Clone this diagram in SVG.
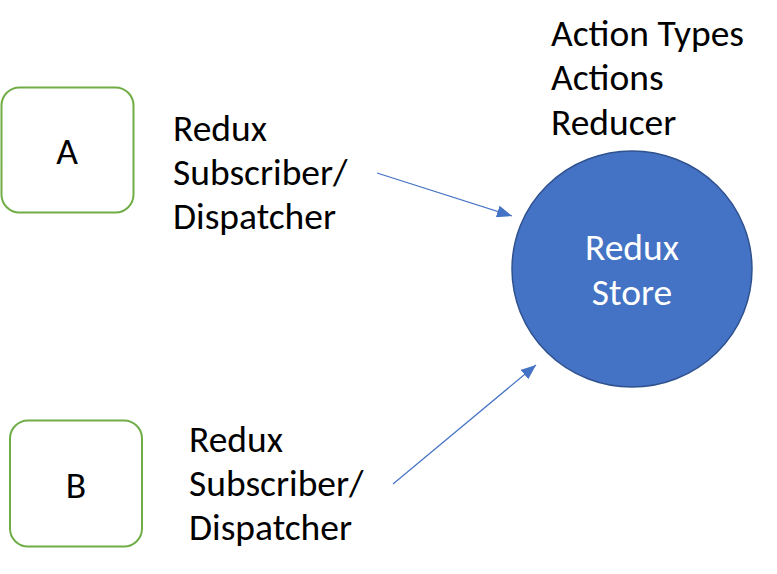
<svg xmlns="http://www.w3.org/2000/svg" width="777" height="574" viewBox="0 0 777 574">
<defs>
<style>
.t{font-family:"Carlito","Open Sans","Liberation Sans",sans-serif;font-size:37.5px;fill:#000}
.box{fill:#fff;stroke:#70AD47;stroke-width:2}
.con{stroke:#4472C4;stroke-width:1.2;fill:none}
</style>
<marker id="ah" markerWidth="16" markerHeight="12" refX="15" refY="6" orient="auto" markerUnits="userSpaceOnUse">
<path d="M0,0 L15,6 L0,12 Z" fill="#4472C4"/>
</marker>
</defs>
<rect width="777" height="574" fill="#fff"/>
<g id="nodeA">
<rect class="box" x="1.5" y="87.5" width="132" height="125" rx="18"/>
<text class="t" x="67" y="164" text-anchor="middle">A</text>
</g>
<g id="nodeB">
<rect class="box" x="10" y="420.5" width="132" height="126" rx="18"/>
<text class="t" x="76" y="498" text-anchor="middle">B</text>
</g>
<g id="store">
<ellipse cx="632" cy="269" rx="120" ry="118" fill="#4472C4" stroke="#2F528F" stroke-width="1.5"/>
<text class="t" x="632" y="260" text-anchor="middle" style="fill:#fff">Redux</text>
<text class="t" x="632" y="305" text-anchor="middle" style="fill:#fff">Store</text>
</g>
<g id="labelA">
<text class="t" x="173" y="141">Redux</text>
<text class="t" x="173" y="185">Subscriber/</text>
<text class="t" x="173" y="229">Dispatcher</text>
</g>
<g id="labelB">
<text class="t" x="189" y="452">Redux</text>
<text class="t" x="189" y="496">Subscriber/</text>
<text class="t" x="189" y="540">Dispatcher</text>
</g>
<g id="storeNotes">
<text class="t" x="551" y="46">Action Types</text>
<text class="t" x="551" y="90">Actions</text>
<text class="t" x="551" y="135">Reducer</text>
</g>
<g id="connectors">
<line class="con" x1="377" y1="173" x2="512" y2="216" marker-end="url(#ah)"/>
<line class="con" x1="393" y1="484" x2="536" y2="365" marker-end="url(#ah)"/>
</g>
</svg>
